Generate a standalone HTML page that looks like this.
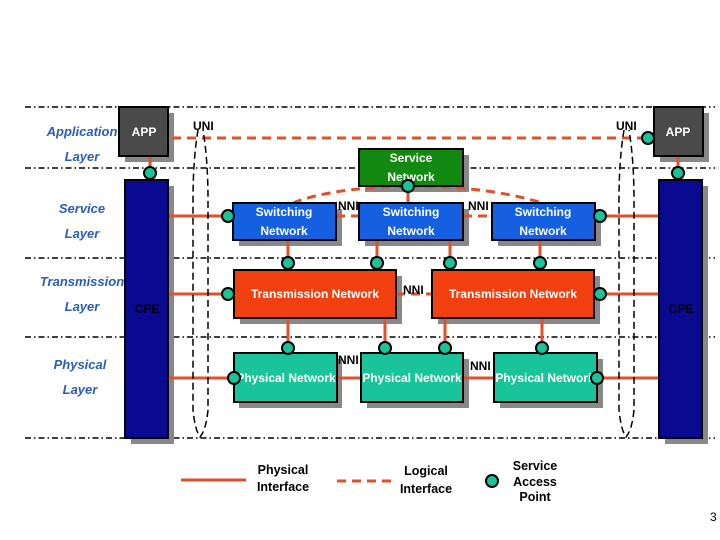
<!DOCTYPE html>
<html><head><meta charset="utf-8"><style>
html,body{margin:0;padding:0;background:#fff;}
svg{display:block;}
text{font-family:"Liberation Sans",Arial,sans-serif;}
.lbl{fill:#2a5db8;font-style:italic;font-weight:bold;font-size:13px;text-anchor:middle;}
.wt{fill:#fff;font-weight:bold;font-size:12px;text-anchor:middle;}
.bk{fill:#000;font-weight:bold;font-size:12px;}
</style></head><body>
<svg width="720" height="540" viewBox="0 0 720 540">
<g stroke="#000" stroke-width="1.5" stroke-dasharray="6,3,1.5,3">
<line x1="25" y1="107" x2="715" y2="107"/>
<line x1="25" y1="168" x2="715" y2="168"/>
<line x1="25" y1="258" x2="715" y2="258"/>
<line x1="25" y1="337" x2="715" y2="337"/>
<line x1="25" y1="438" x2="715" y2="438"/>
</g>
<text class="lbl" x="82" y="136">Application</text>
<text class="lbl" x="82" y="161">Layer</text>
<text class="lbl" x="82" y="213">Service</text>
<text class="lbl" x="82" y="238">Layer</text>
<text class="lbl" x="82" y="286">Transmission</text>
<text class="lbl" x="82" y="311">Layer</text>
<text class="lbl" x="80" y="369">Physical</text>
<text class="lbl" x="80" y="394">Layer</text>
<g fill="#888">
<rect x="125" y="113" width="49" height="49"/>
<rect x="660" y="113" width="49" height="49"/>
<rect x="131" y="186" width="43" height="258"/>
<rect x="665" y="186" width="43" height="258"/>
<rect x="365" y="155" width="104" height="37"/>
<rect x="239" y="209" width="103" height="37"/>
<rect x="365" y="209" width="104" height="37"/>
<rect x="498" y="209" width="103" height="37"/>
<rect x="240" y="276" width="162" height="48"/>
<rect x="438" y="276" width="162" height="48"/>
<rect x="239" y="359" width="103" height="49"/>
<rect x="367" y="359" width="102" height="49"/>
<rect x="500" y="359" width="103" height="49"/>
</g>
<g stroke="#e0502a" stroke-width="3" fill="none">
<line x1="150" y1="156" x2="150" y2="180"/>
<line x1="678" y1="156" x2="678" y2="180"/>
<line x1="168" y1="216" x2="228" y2="216"/>
<line x1="600" y1="216" x2="659" y2="216"/>
<line x1="168" y1="294" x2="228" y2="294"/>
<line x1="600" y1="294" x2="659" y2="294"/>
<line x1="168" y1="378" x2="228" y2="378"/>
<line x1="600" y1="378" x2="659" y2="378"/>
<line x1="336" y1="378" x2="361" y2="378"/>
<line x1="463" y1="378" x2="494" y2="378"/>
<line x1="408" y1="186" x2="408" y2="203"/>
<line x1="288" y1="240" x2="288" y2="263"/>
<line x1="377" y1="240" x2="377" y2="263"/>
<line x1="450" y1="240" x2="450" y2="263"/>
<line x1="540" y1="240" x2="540" y2="263"/>
<line x1="288" y1="318" x2="288" y2="348"/>
<line x1="385" y1="318" x2="385" y2="348"/>
<line x1="445" y1="318" x2="445" y2="348"/>
<line x1="542" y1="318" x2="542" y2="348"/>
</g>
<g stroke="#e0502a" stroke-width="3" fill="none" stroke-dasharray="9,6">
<line x1="172" y1="138" x2="642" y2="138"/>
<path d="M293,203 Q330,188 408,186 Q490,186 545,204"/>
<line x1="336" y1="216" x2="360" y2="216"/>
<line x1="463" y1="216" x2="492" y2="216"/>
<line x1="396" y1="294" x2="432" y2="294"/>
</g>
<g stroke="#000" stroke-width="1.5" fill="none" stroke-dasharray="7,4">
<path d="M198,130 Q193,160 193,200 L193,410 Q195,430 200,437 Q206,430 208,410 L208,200 Q208,160 203,130"/>
<path d="M624,130 Q619,160 619,200 L619,410 Q621,430 626,437 Q632,430 634,410 L634,200 Q634,160 629,130"/>
</g>
<g stroke="#000" stroke-width="2">
<rect x="119" y="107" width="49" height="49" fill="#4a4a4a"/>
<rect x="654" y="107" width="49" height="49" fill="#4a4a4a"/>
<rect x="125" y="180" width="43" height="258" fill="#0a0a90"/>
<rect x="659" y="180" width="43" height="258" fill="#0a0a90"/>
<rect x="359" y="149" width="104" height="37" fill="#128a12"/>
<rect x="233" y="203" width="103" height="37" fill="#1560e0"/>
<rect x="359" y="203" width="104" height="37" fill="#1560e0"/>
<rect x="492" y="203" width="103" height="37" fill="#1560e0"/>
<rect x="234" y="270" width="162" height="48" fill="#f04010"/>
<rect x="432" y="270" width="162" height="48" fill="#f04010"/>
<rect x="234" y="353" width="103" height="49" fill="#1ac49a"/>
<rect x="361" y="353" width="102" height="49" fill="#1ac49a"/>
<rect x="494" y="353" width="103" height="49" fill="#1ac49a"/>
</g>
<text class="wt" x="144" y="136">APP</text>
<text class="wt" x="678" y="136">APP</text>
<text class="wt" x="411" y="162">Service</text>
<text class="wt" x="411" y="181">Network</text>
<text class="wt" x="284" y="216">Switching</text>
<text class="wt" x="284" y="235">Network</text>
<text class="wt" x="411" y="216">Switching</text>
<text class="wt" x="411" y="235">Network</text>
<text class="wt" x="543" y="216">Switching</text>
<text class="wt" x="543" y="235">Network</text>
<text class="wt" x="315" y="298">Transmission Network</text>
<text class="wt" x="513" y="298">Transmission Network</text>
<text class="wt" x="286" y="382">Physical Network</text>
<text class="wt" x="412" y="382">Physical Network</text>
<text class="wt" x="545" y="382">Physical Network</text>
<text x="147" y="313" style="font-weight:bold;font-size:12px;fill:#000;text-anchor:middle">CPE</text>
<text x="681" y="313" style="font-weight:bold;font-size:12px;fill:#000;text-anchor:middle">CPE</text>
<text class="bk" x="193" y="130">UNI</text>
<text class="bk" x="616" y="130">UNI</text>
<text class="bk" x="338" y="210">NNI</text>
<text class="bk" x="468" y="210">NNI</text>
<text class="bk" x="403" y="294">NNI</text>
<text class="bk" x="338" y="364">NNI</text>
<text class="bk" x="470" y="370">NNI</text>
<g fill="#1ac49a" stroke="#000" stroke-width="2">
<circle cx="150" cy="173" r="6"/>
<circle cx="678" cy="173" r="6"/>
<circle cx="648" cy="138" r="6"/>
<circle cx="408" cy="186" r="6"/>
<circle cx="228" cy="216" r="6"/>
<circle cx="600" cy="216" r="6"/>
<circle cx="288" cy="263" r="6"/>
<circle cx="377" cy="263" r="6"/>
<circle cx="450" cy="263" r="6"/>
<circle cx="540" cy="263" r="6"/>
<circle cx="228" cy="294" r="6"/>
<circle cx="600" cy="294" r="6"/>
<circle cx="288" cy="348" r="6"/>
<circle cx="385" cy="348" r="6"/>
<circle cx="445" cy="348" r="6"/>
<circle cx="542" cy="348" r="6"/>
<circle cx="234" cy="378" r="6"/>
<circle cx="597" cy="378" r="6"/>
<circle cx="492" cy="481" r="6"/>
</g>
<line x1="181" y1="480" x2="246" y2="480" stroke="#e0502a" stroke-width="3"/>
<line x1="337" y1="481" x2="394" y2="481" stroke="#e0502a" stroke-width="3" stroke-dasharray="9,6"/>
<g style="font-size:12.5px;fill:#000;text-anchor:middle;font-weight:bold">
<text x="283" y="474">Physical</text>
<text x="283" y="491">Interface</text>
<text x="426" y="475">Logical</text>
<text x="426" y="493">Interface</text>
<text x="535" y="470">Service</text>
<text x="535" y="486">Access</text>
<text x="535" y="501">Point</text>
</g>
<text x="710" y="521" style="font-size:12px;fill:#000">3</text>
</svg>
</body></html>
